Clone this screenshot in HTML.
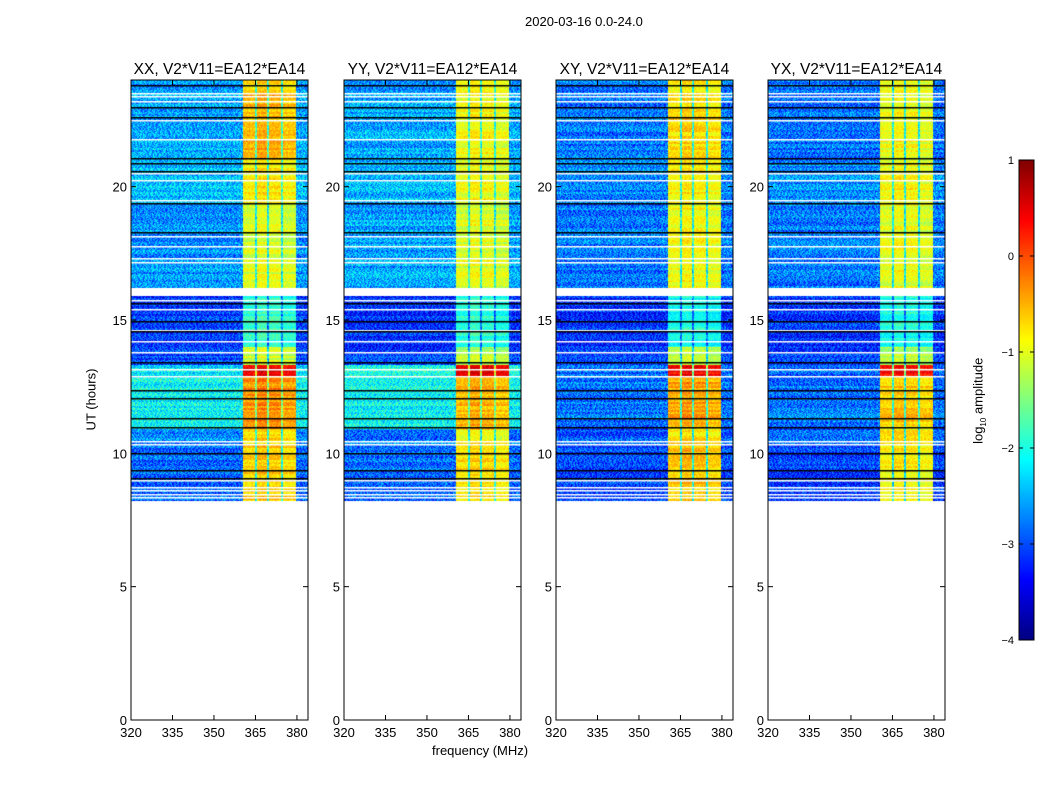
<!DOCTYPE html>
<html><head><meta charset="utf-8">
<style>
body{margin:0;background:#fff;width:1050px;height:800px;overflow:hidden;font-family:"Liberation Sans","DejaVu Sans",sans-serif;}
#root{position:relative;width:1050px;height:800px;}
.t{position:absolute;font-size:13px;color:#000;white-space:nowrap;}
canvas{position:absolute;}
</style></head>
<body>
<div id="root">
<div class="t" style="left:525px;top:14px;">2020-03-16 0.0-24.0</div>
<div class="t" style="left:432px;top:743px;">frequency (MHz)</div>
<div class="t" style="left:60px;top:392px;transform:rotate(-90deg);">UT (hours)</div>
<div class="t" style="left:936px;top:392px;transform:rotate(-90deg);">log<sub style="font-size:8px">10</sub> amplitude</div>
<svg id="axes" width="1050" height="800" style="position:absolute;left:0;top:0"></svg>
</div>
<script>
// ---- data ----
const panelTitles = ["XX, V2*V11=EA12*EA14","YY, V2*V11=EA12*EA14","XY, V2*V11=EA12*EA14","YX, V2*V11=EA12*EA14"];
const segStart = [8.2,10.3,10.9,12.9,13.3,14.0,16.2,19.4,21.0,23.5];
const segEnd   = [10.3,10.9,12.9,13.3,14.0,15.9,19.4,21.0,23.5,24.0];
const bgXX = [-2.85,-2.7,-2.1,-2.2,-3.05,-3.15,-2.65,-2.45,-2.55,-2.65];
const bgYY = [-2.85,-2.75,-2.1,-2.1,-3.05,-3.15,-2.55,-2.45,-2.55,-2.65];
const bgXY = [-3.05,-2.95,-2.8,-2.85,-3.05,-3.15,-2.8,-2.7,-2.8,-2.8];
const bgYX = [-3.05,-2.95,-2.8,-2.85,-3.05,-3.15,-2.8,-2.7,-2.8,-2.8];
const bandXX = [-0.7,-0.8,-0.4,0.4,-1.2,-2.0,-1.1,-0.9,-0.6,-0.8];
const bandYY = [-0.8,-0.9,-0.6,0.3,-1.3,-2.0,-1.1,-1.0,-1.0,-0.9];
const bandXY = [-0.7,-0.8,-0.5,0.3,-1.3,-2.1,-1.0,-0.9,-0.8,-0.9];
const bandYX = [-0.9,-0.9,-0.7,0.3,-1.3,-2.1,-1.1,-1.0,-1.0,-1.0];
const subBandLo = [360.5,365.5,369.8,374.9];
const subBandHi = [364.8,369.3,374.3,379.6];
const subBandOffset = [0.05,0.15,0.1,0.0];
const whiteRows = [23.51,23.40,23.21,22.50,21.79,20.51,20.25,19.50,18.15,17.78,17.33,17.18,15.75,15.41,14.63,14.21,13.80,13.16,12.90,10.46,10.35,9.00,8.74,8.63,8.48,8.36];
const blackRows = [23.81,22.99,22.61,21.08,20.89,20.59,19.39,18.30,15.64,14.96,14.59,13.43,12.38,12.08,11.33,10.99,10.01,9.38,9.08];
const gapStart = [15.9], gapEnd = [16.2];
const xTicks = [320,335,350,365,380];
const yTicks = [0,5,10,15,20];
const cbTicks = [1,0,-1,-2,-3,-4];
// ---- layout ----
const panelX=[131,344,556,768], PW=177, PY=80, PH=640;
const F0=320,F1=384,T0=0,T1=24;
const xs=(f)=> (f-F0)/(F1-F0)*PW;
const ys=(t)=> PH-(t-T0)/(T1-T0)*PH;
const VMIN=-4,VMAX=1;
function jet(v){
  let x=(v-VMIN)/(VMAX-VMIN); x=Math.max(0,Math.min(1,x));
  const c=(a)=>Math.max(0,Math.min(1,a));
  const r=c(1.5-Math.abs(4*x-3)), g=c(1.5-Math.abs(4*x-2)), b=c(1.5-Math.abs(4*x-1));
  return [r*255|0,g*255|0,b*255|0];
}
function h(a,b,c){let n=(a*374761393+b*668265263+c*2147483647)|0;n=(n^(n>>>13))*1274126177|0;return ((n^(n>>>16))>>>0)/4294967295;}
const bgs=[bgXX,bgYY,bgXY,bgYX], bands=[bandXX,bandYY,bandXY,bandYX];
const root=document.getElementById('root');
const svg=document.getElementById('axes');
const NS='http://www.w3.org/2000/svg';
function line(x1,y1,x2,y2,w){const l=document.createElementNS(NS,'line');l.setAttribute('x1',x1);l.setAttribute('y1',y1);l.setAttribute('x2',x2);l.setAttribute('y2',y2);l.setAttribute('stroke','#000');l.setAttribute('stroke-width',w||1);svg.appendChild(l);return l;}
function txt(x,y,s,anchor){const t=document.createElementNS(NS,'text');t.setAttribute('x',x);t.setAttribute('y',y);t.setAttribute('font-size','13');t.setAttribute('font-family','Liberation Sans, DejaVu Sans, sans-serif');t.setAttribute('text-anchor',anchor||'middle');t.textContent=s;svg.appendChild(t);return t;}
for(let p=0;p<4;p++){
  const cv=document.createElement('canvas');cv.width=PW;cv.height=PH;
  cv.style.left=panelX[p]+'px';cv.style.top=PY+'px';
  
  
  root.insertBefore(cv,svg);
  const ctx=cv.getContext('2d');const img=ctx.createImageData(PW,PH);
  for(let py=0;py<PH;py++){
    const t=T1-(py+0.5)/PH*(T1-T0);
    let s=-1;for(let i=0;i<segStart.length;i++){if(t>=segStart[i]&&t<segEnd[i]){s=i;break;}}
    for(let px=0;px<PW;px++){
      const k=(py*PW+px)*4;
      if(s<0){img.data[k]=255;img.data[k+1]=255;img.data[k+2]=255;img.data[k+3]=255;continue;}
      const f=F0+(px+0.5)/PW*(F1-F0);
      let v=bgs[p][s]; let inb=false;
      for(let b=0;b<subBandLo.length;b++){if(f>=subBandLo[b]&&f<subBandHi[b]){v=bands[p][s]+subBandOffset[b];inb=true;}}
      if(!inb && f>=360.5 && f<379.6) v=(bgs[p][s]+bands[p][s])/2-0.2;
      const rowN=(h(p,py>>1,7)-0.5)*0.4;
      const n=(h(p,py,px)-0.5)*(inb?0.45:1.0);
      v+=rowN+n;
      const c=jet(v);img.data[k]=c[0];img.data[k+1]=c[1];img.data[k+2]=c[2];img.data[k+3]=255;
    }
  }
  ctx.putImageData(img,0,0);
  for(let i=0;i<gapStart.length;i++){ctx.fillStyle='#fff';ctx.fillRect(0,ys(gapEnd[i]),PW,ys(gapStart[i])-ys(gapEnd[i]));}
  ctx.fillStyle='#fff';whiteRows.forEach(t=>ctx.fillRect(0,Math.round(ys(t)),PW,1.5));
  ctx.fillStyle='#000';blackRows.forEach(t=>ctx.fillRect(0,Math.round(ys(t)),PW,1.5));
  const X=panelX[p];
  const r=document.createElementNS(NS,'rect');r.setAttribute('x',X);r.setAttribute('y',PY);r.setAttribute('width',PW);r.setAttribute('height',PH);r.setAttribute('fill','none');r.setAttribute('stroke','#000');
  
  
  svg.appendChild(r);
  const tt=document.createElementNS(NS,'text');tt.setAttribute('x',X+PW/2);tt.setAttribute('y',74);tt.setAttribute('font-size','15.5');tt.setAttribute('text-anchor','middle');tt.setAttribute('font-family','Liberation Sans, DejaVu Sans, sans-serif');tt.textContent=panelTitles[p];
  
  
  svg.appendChild(tt);
  xTicks.forEach(f=>{const x=X+xs(f);line(x,PY+PH,x,PY+PH-5);line(x,PY,x,PY+5);const l=txt(x,PY+PH+17,String(f));
    
    });
  yTicks.forEach(v=>{const y=PY+ys(v);line(X,y,X+5,y);line(X+PW,y,X+PW-5,y);const l=txt(X-4,y+5,String(v),'end');
    
    });
}
(function(){
  const cx=1019,cy=160,cw=15,chh=480;
  const cv=document.createElement('canvas');cv.width=cw;cv.height=chh;cv.style.left=cx+'px';cv.style.top=cy+'px';
  
  
  root.insertBefore(cv,svg);
  const ctx=cv.getContext('2d');
  for(let y=0;y<chh;y++){const c=jet(VMAX-(y+0.5)/chh*(VMAX-VMIN));ctx.fillStyle='rgb('+c+')';ctx.fillRect(0,y,cw,1);}
  const r=document.createElementNS(NS,'rect');r.setAttribute('x',cx);r.setAttribute('y',cy);r.setAttribute('width',cw);r.setAttribute('height',chh);r.setAttribute('fill','none');r.setAttribute('stroke','#000');svg.appendChild(r);
  cbTicks.forEach(v=>{const y=cy+(VMAX-v)/(VMAX-VMIN)*chh;line(cx,y,cx+4,y);line(cx+cw,y,cx+cw-4,y);
    const l=txt(cx-5,y+4,(v<0?'\u2212'+(-v):String(v)),'end');l.setAttribute('font-size','11');
    
    });
})();
</script>
</body></html>
